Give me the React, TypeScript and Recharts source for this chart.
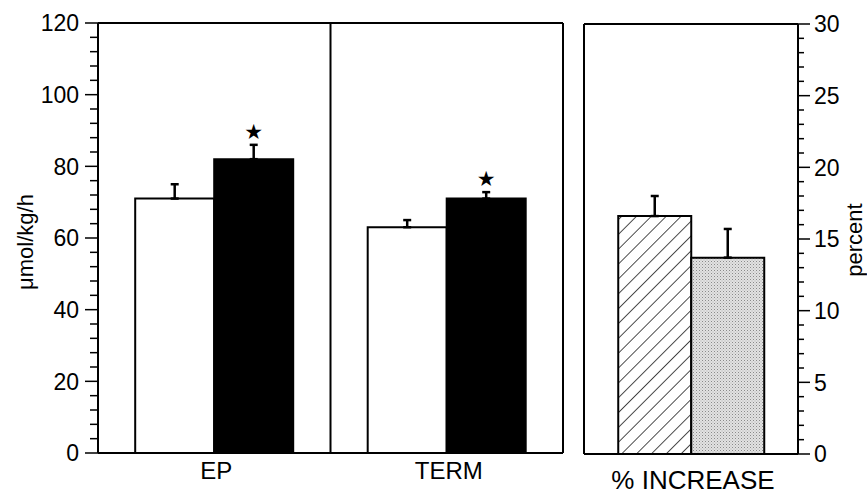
import React from 'react';
import { BarChart, Bar, XAxis, YAxis, ErrorBar, LabelList, ReferenceLine } from 'recharts';

// groups on the left panel
const groups = ['EP', 'TERM'];
const controlValues = [71, 63];
const controlErrors = [4, 2];
const treatedValues = [82, 71];
const treatedErrors = [4, 1.8];
const stars = ['★', '★'];

// right panel: percent increase
const increaseCategory = ['% INCREASE'];
const increaseHatched = [16.6];
const increaseHatchedErr = [1.4];
const increaseDotted = [13.7];
const increaseDottedErr = [2.0];

const leftMajorTicks = [0, 20, 40, 60, 80, 100, 120];
const rightMajorTicks = [0, 5, 10, 15, 20, 25, 30];
const leftTicks = Array.from({ length: 31 }, (_, i) => i * 4);
const rightTicks = Array.from({ length: 31 }, (_, i) => i);

const FONT = '"Liberation Sans", Arial, Helvetica, sans-serif';

const leftData = groups.map((name, i) => ({
  name,
  control: controlValues[i],
  controlErr: [0, controlErrors[i]],
  treated: treatedValues[i],
  treatedErr: [0, treatedErrors[i]],
  star: stars[i],
}));

const rightData = increaseCategory.map((name, i) => ({
  name,
  hatched: increaseHatched[i],
  hatchedErr: [0, increaseHatchedErr[i]],
  dotted: increaseDotted[i],
  dottedErr: [0, increaseDottedErr[i]],
}));

const frame = { stroke: '#000', strokeWidth: 2 };

const LeftTick = (props: any) => {
  const { x, y, payload } = props;
  const major = leftMajorTicks.includes(payload.value);
  return (
    <g>
      <line x1={x - (major ? 13 : 8)} x2={x} y1={y} y2={y} stroke="#000" strokeWidth={1.5} />
      {major && (
        <text x={x - 19} y={y} dy="0.36em" textAnchor="end" fontSize={23} fontFamily={FONT} fill="#000">
          {payload.value}
        </text>
      )}
    </g>
  );
};

const RightTick = (props: any) => {
  const { x, y, payload } = props;
  const major = rightMajorTicks.includes(payload.value);
  return (
    <g>
      <line x1={x} x2={x + (major ? 12 : 6)} y1={y} y2={y} stroke="#000" strokeWidth={1.5} />
      {major && (
        <text x={x + 16} y={y} dy="0.36em" textAnchor="start" fontSize={23} fontFamily={FONT} fill="#000">
          {payload.value}
        </text>
      )}
    </g>
  );
};

const CategoryTick = (props: any) => {
  const { x, y, payload } = props;
  return (
    <text x={x + 2} y={y + 26} textAnchor="middle" fontSize={24} fontFamily={FONT} fill="#000">
      {payload.value}
    </text>
  );
};

const IncreaseTick = (props: any) => {
  const { x, y, payload } = props;
  return (
    <text x={x + 2} y={y + 35} textAnchor="middle" fontSize={26} fontFamily={FONT} fill="#000">
      {payload.value}
    </text>
  );
};

const renderStar = (props: any) => {
  const { x, y, width, height, value, index } = props;
  const errPx = (treatedErrors[index] * height) / treatedValues[index];
  return (
    <text x={x + width / 2} y={y - errPx - 6} textAnchor="middle" fontSize={21} fontFamily="DejaVu Sans" fill="#000">
      {value}
    </text>
  );
};

const LeftTitle = (props: any) => {
  const { viewBox } = props;
  const cx = viewBox.x + 25;
  const cy = viewBox.y + viewBox.height / 2 + 4;
  return (
    <text x={cx} y={cy} transform={`rotate(-90 ${cx} ${cy})`} textAnchor="middle" dominantBaseline="central" fontSize={22} fontFamily={FONT} fill="#000">
      μmol/kg/h
    </text>
  );
};

const RightTitle = (props: any) => {
  const { viewBox } = props;
  const cx = viewBox.x + 56;
  const cy = viewBox.y + viewBox.height / 2 + 1;
  return (
    <text x={cx} y={cy} transform={`rotate(-90 ${cx} ${cy})`} textAnchor="middle" dominantBaseline="central" fontSize={22} fontFamily={FONT} fill="#000">
      percent
    </text>
  );
};

export default function App() {
  return (
    <div style={{ position: 'absolute', left: 0, top: 0, width: 867, height: 494, background: '#fff' }}>
      <div style={{ position: 'absolute', left: 0, top: 0 }}>
        <BarChart width={575} height={494} data={leftData} margin={{ top: 23, right: 12, bottom: 0, left: 0 }} barCategoryGap="16%" barGap={0}>
          <XAxis dataKey="name" height={41} axisLine={frame} tickLine={false} tickSize={0} tickMargin={0} tick={CategoryTick} />
          <YAxis
            domain={[0, 120]}
            ticks={leftTicks}
            interval={0}
            width={98}
            axisLine={frame}
            tickLine={false}
            tickSize={0}
            tickMargin={0}
            tick={LeftTick}
            label={<LeftTitle />}
          />
          <ReferenceLine y={120} stroke="#000" strokeWidth={2} />
          <ReferenceLine x="TERM" position="start" stroke="#000" strokeWidth={2} />
          <ReferenceLine x="TERM" position="end" stroke="#000" strokeWidth={2} />
          <Bar dataKey="control" fill="#fff" stroke="#000" strokeWidth={2} isAnimationActive={false}>
            <ErrorBar dataKey="controlErr" direction="y" width={4} stroke="#000" strokeWidth={2.5} isAnimationActive={false} />
          </Bar>
          <Bar dataKey="treated" fill="#000" stroke="#000" strokeWidth={2} isAnimationActive={false}>
            <ErrorBar dataKey="treatedErr" direction="y" width={4} stroke="#000" strokeWidth={2.5} isAnimationActive={false} />
            <LabelList dataKey="star" content={renderStar} />
          </Bar>
        </BarChart>
      </div>
      <div style={{ position: 'absolute', left: 570, top: 0 }}>
        <BarChart width={297} height={494} data={rightData} margin={{ top: 24, right: 0, bottom: 0, left: 14 }} barCategoryGap="16%" barGap={0}>
          <defs>
            <pattern id="hatch" patternUnits="userSpaceOnUse" width={10.5} height={10.5} patternTransform="rotate(45)">
              <rect width={10.5} height={10.5} fill="#fff" />
              <line x1={0} y1={0} x2={0} y2={10.5} stroke="#000" strokeWidth={1.4} />
            </pattern>
            <pattern id="dots" patternUnits="userSpaceOnUse" width={3} height={3}>
              <rect width={3} height={3} fill="#e2e2e2" />
              <rect x={0} y={0} width={1} height={1} fill="#8a8a8a" />
              <rect x={1.5} y={1.5} width={1} height={1} fill="#b0b0b0" />
            </pattern>
          </defs>
          <XAxis dataKey="name" height={40} axisLine={frame} tickLine={false} tickSize={0} tickMargin={0} tick={IncreaseTick} />
          <YAxis
            orientation="right"
            domain={[0, 30]}
            ticks={rightTicks}
            interval={0}
            width={69}
            axisLine={frame}
            tickLine={false}
            tickSize={0}
            tickMargin={0}
            tick={RightTick}
            label={<RightTitle />}
          />
          <ReferenceLine y={30} stroke="#000" strokeWidth={2} />
          <ReferenceLine x="% INCREASE" position="start" stroke="#000" strokeWidth={2} />
          <Bar dataKey="hatched" fill="url(#hatch)" stroke="#000" strokeWidth={2} isAnimationActive={false}>
            <ErrorBar dataKey="hatchedErr" direction="y" width={4} stroke="#000" strokeWidth={2.5} isAnimationActive={false} />
          </Bar>
          <Bar dataKey="dotted" fill="url(#dots)" stroke="#000" strokeWidth={2} isAnimationActive={false}>
            <ErrorBar dataKey="dottedErr" direction="y" width={4} stroke="#000" strokeWidth={2.5} isAnimationActive={false} />
          </Bar>
        </BarChart>
      </div>
    </div>
  );
}
